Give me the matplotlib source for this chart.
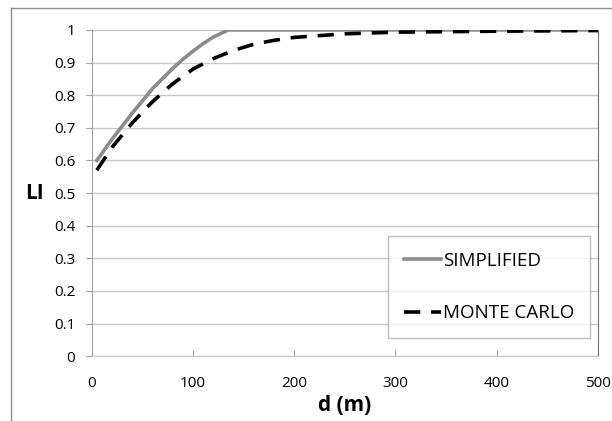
import matplotlib.pyplot as plt
from matplotlib.lines import Line2D

# data
d_simp = [5, 20, 40, 60, 80, 90, 100, 110, 120, 135, 500]
li_simp = [0.60, 0.665, 0.745, 0.82, 0.882, 0.91, 0.935, 0.958, 0.978, 1.0, 1.0]

d_mc = [5, 20, 40, 60, 80, 100, 120, 140, 160, 180, 200, 250, 300, 400, 500]
li_mc = [0.57, 0.64, 0.715, 0.78, 0.835, 0.88, 0.912, 0.937, 0.956, 0.968, 0.977, 0.988, 0.993, 0.996, 0.998]

plt.rcParams['font.family'] = ['Open Sans', 'DejaVu Sans']

fig = plt.figure(figsize=(6.12, 4.21), dpi=100)
ax = fig.add_axes([0.150, 0.154, 0.827, 0.775])

ax.plot(d_simp, li_simp, color='#8c8c8c', lw=2.6, label='SIMPLIFIED', zorder=3)
ax.plot(d_mc, li_mc, color='black', lw=2.6, ls=(0, (4.5, 3)), label='MONTE CARLO', zorder=3)

ax.set_xlim(0, 500)
ax.set_ylim(0, 1)
ax.set_xticks([0, 100, 200, 300, 400, 500])
ax.set_yticks([i / 10 for i in range(11)])
ax.set_yticklabels(['0', '0.1', '0.2', '0.3', '0.4', '0.5', '0.6', '0.7', '0.8', '0.9', '1'])
ax.tick_params(labelsize=11, length=4, color='#a0a0a0')
ax.tick_params(axis='x', direction='in', pad=14)
ax.tick_params(axis='y', direction='out', pad=8)
ax.grid(axis='y', color='#c8c8c8', lw=1)
ax.set_axisbelow(True)

ax.spines['top'].set_visible(False)
ax.spines['left'].set_color('#a0a0a0')
ax.spines['bottom'].set_color('#c8c8c8')
ax.spines['right'].set_color('#707070')

ax.set_xlabel('d (m)', fontsize=15, fontweight='bold', labelpad=3)
ax.set_ylabel('LI', fontsize=15, fontweight='bold', rotation=0, labelpad=14, va='center')

leg = ax.legend(loc='lower right', bbox_to_anchor=(0.985, 0.055), fontsize=13.5,
                frameon=True, fancybox=False, edgecolor='#b0b0b0',
                handlelength=2.0, handletextpad=0.1, labelspacing=1.85,
                borderpad=0.85, borderaxespad=0)
leg.get_frame().set_linewidth(1)

# outer chart frame
fig.add_artist(Line2D([11 / 612, 11 / 612], [0, 1 - 8 / 421], color='#909090', lw=1))
fig.add_artist(Line2D([11 / 612, 1], [1 - 8 / 421, 1 - 8 / 421], color='#909090', lw=1))

fig.savefig('out.png', dpi=100)
